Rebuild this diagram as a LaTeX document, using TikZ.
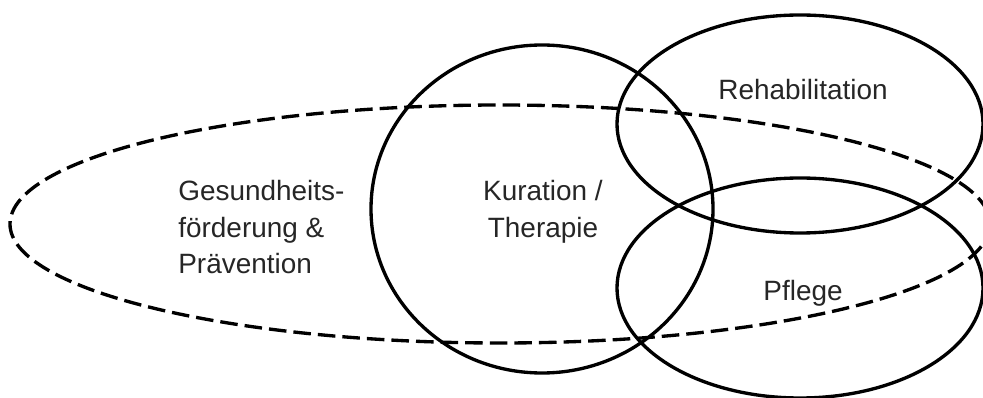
\documentclass[tikz,border=0pt]{standalone}
\usepackage{fontspec}
\setmainfont{Liberation Sans}

\begin{document}
\begin{tikzpicture}[
	x=0.02cm, y=-0.02cm,
	area/.style={line width=1.9pt},
	dashedarea/.style={line width=1.9pt, dash pattern=on 10pt off 4pt},
	areatext/.style={text=black!85, font=\fontsize{15.9}{20.8}\selectfont, inner sep=0pt}
	]
	\useasboundingbox (0,0) rectangle (983,398);
	\clip (0,0) rectangle (983,398);

	\coordinate (G) at (500,224);
	\coordinate (K) at (542,209);
	\coordinate (R) at (800,124);
	\coordinate (P) at (800,288);

	% Gesundheitsfoerderung
	\draw[dashedarea] (G) ellipse [x radius=490, y radius=119];
	\node[areatext, anchor=north west, align=left] (gtext) at (178,180) {Gesundheits-\\förderung \&\\Prävention};

	% Kuration
	\draw[area] (K) ellipse [x radius=171, y radius=164];
	\node[areatext, anchor=north, align=center] (ktext) at (543,180) {Kuration /\\Therapie};

	% Rehabilitation
	\draw[area] (R) ellipse [x radius=183, y radius=109];
	\node[areatext, anchor=base] (rtext) at (803,100) {Rehabilitation};

	% Pflege
	\draw[area] (P) ellipse [x radius=183, y radius=110];
	\node[areatext, anchor=base] (ptext) at (803,300) {Pflege};
\end{tikzpicture}
\end{document}
